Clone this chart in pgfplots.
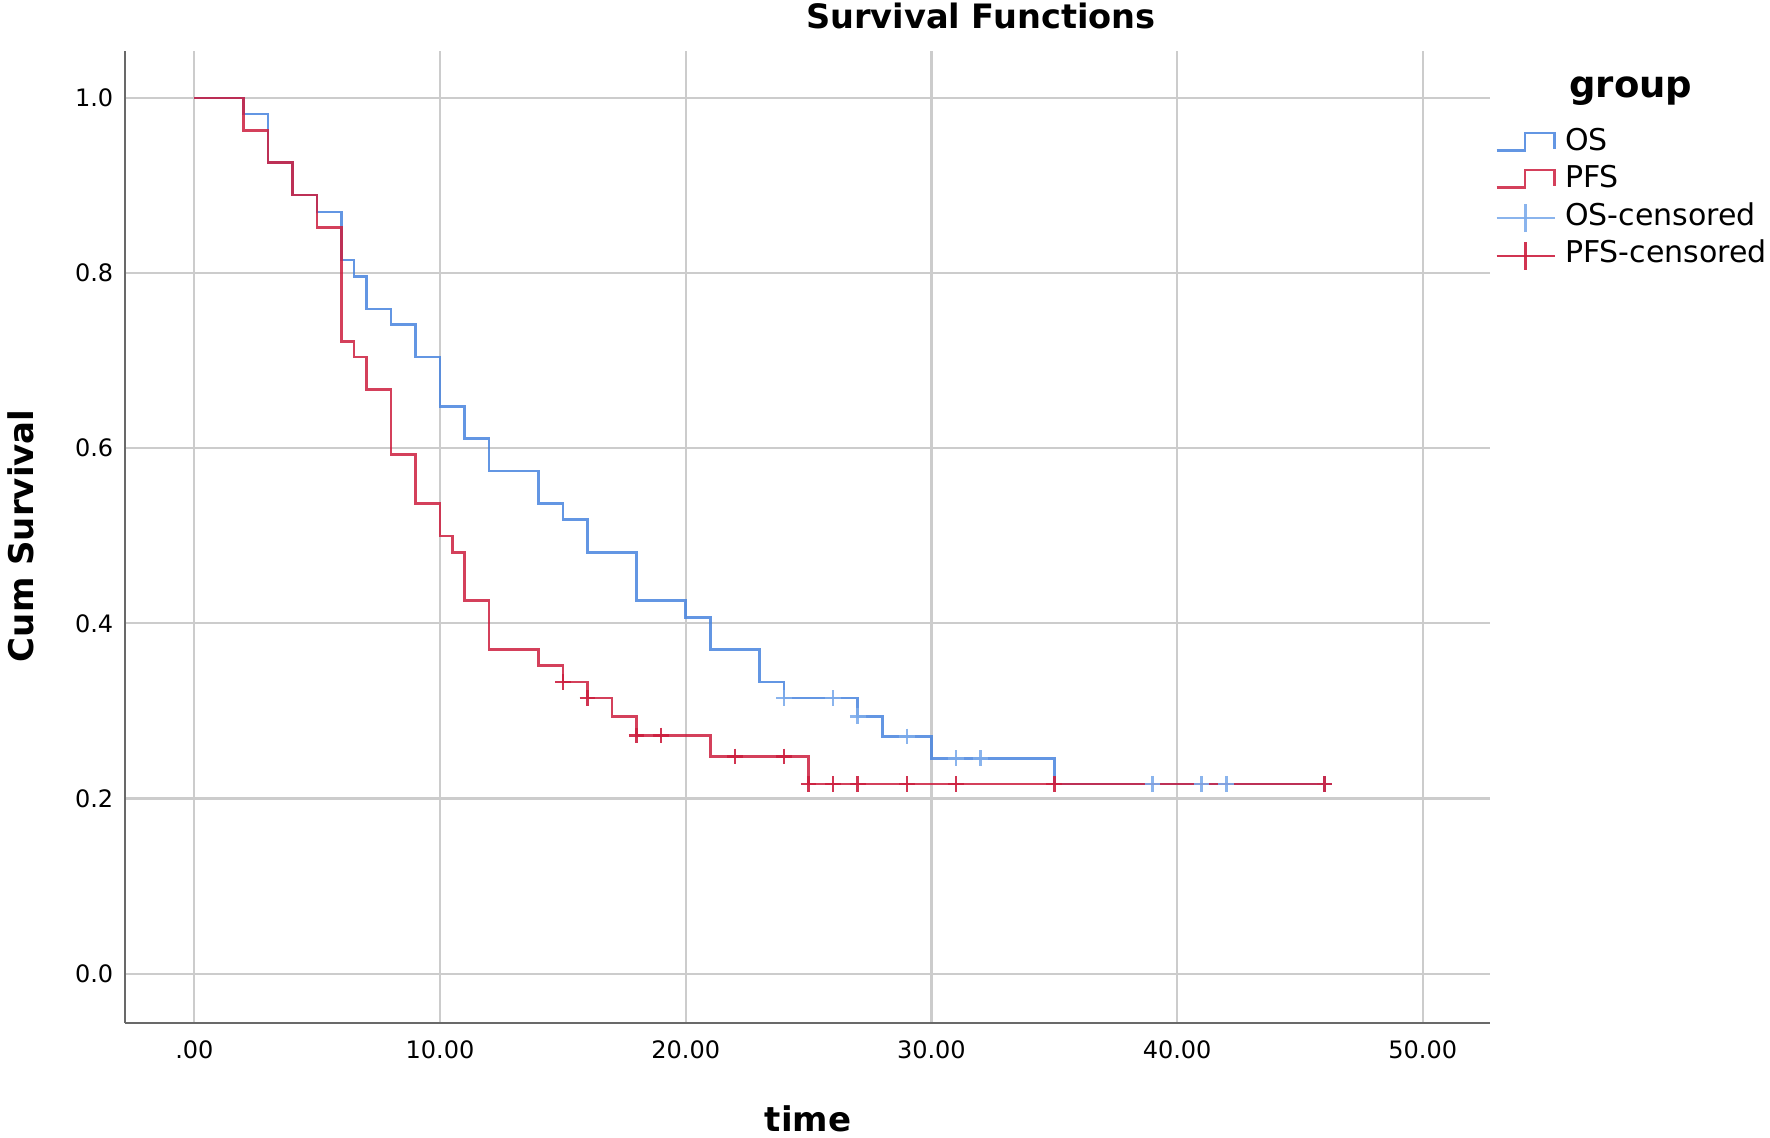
\documentclass[border=0pt]{standalone}
\usepackage{fontspec}
\setmainfont{DejaVu Sans}
\usepackage{pgfplots}
\pgfplotsset{compat=1.18}

\definecolor{osblue}{RGB}{72,132,222}
\definecolor{oscens}{RGB}{125,172,235}
\definecolor{pfsred}{RGB}{204,30,62}
\definecolor{gridgray}{RGB}{204,204,204}
\definecolor{axgray}{RGB}{105,105,105}

\pgfplotsset{
    steplegend/.style={legend image code/.code={\draw[##1] (0pt,-3.5pt) -- (14.2pt,-3.5pt) -- (14.2pt,5.2pt) -- (29pt,5.2pt) -- (29pt,-2.7pt);}},
    censlegend/.style={legend image code/.code={\draw[##1] (0pt,0pt) -- (29pt,0pt); \draw[##1] (14.5pt,-7pt) -- (14.5pt,7pt);}},
}

\begin{document}
\begin{tikzpicture}
\useasboundingbox (-62.65pt,-57.15pt) rectangle (822.35pt,511.35pt);
\begin{axis}[
    scale only axis,
    width=682.4pt, height=486pt,
    xmin=-2.81, xmax=52.74,
    ymin=-0.056, ymax=1.054,
    axis lines*=left,
    axis line style={axgray, line width=1pt},
    xtick={0,10,20,30,40,50},
    xticklabels={.00,10.00,20.00,30.00,40.00,50.00},
    ytick={0,0.2,0.4,0.6,0.8,1},
    yticklabels={0.0,0.2,0.4,0.6,0.8,1.0},
    major tick length=0pt,
    grid=major,
    major grid style={gridgray, line width=1.1pt},
    ticklabel style={font=\fontsize{12}{14}\selectfont},
    xticklabel style={yshift=-5.5pt},
    yticklabel style={xshift=-2.5pt},
    clip=false,
    legend cell align=left,
    legend style={
        at={(1.0036,0.9205)}, anchor=north west,
        draw=none, fill=none, inner sep=0pt,
        font=\fontsize{15}{16}\selectfont,
        row sep=3.6pt, column sep=4.5pt,
        nodes={inner sep=0pt, text height=11pt, text depth=4pt},
    },
]
% Kaplan-Meier steps
\addplot[const plot, osblue, line width=1.3pt, opacity=0.85, steplegend]
coordinates {(0,1) (2,0.9815) (3,0.926) (4,0.889) (5,0.870) (6,0.815) (6.5,0.796)
 (7,0.759) (8,0.741) (9,0.704) (10,0.648) (11,0.611) (12,0.574) (14,0.537)
 (15,0.5185) (16,0.481) (18,0.426) (20,0.407) (21,0.370) (23,0.333) (24,0.315)
 (27,0.294) (28,0.271) (30,0.246) (35,0.2165) (46.3,0.2165)};
\addlegendentry{OS}
\addplot[const plot, pfsred, line width=1.3pt, opacity=0.85, steplegend]
coordinates {(0,1) (2,0.963) (3,0.926) (4,0.889) (5,0.852) (6,0.722) (6.5,0.704)
 (7,0.667) (8,0.593) (9,0.537) (10,0.500) (10.5,0.481) (11,0.426) (12,0.370)
 (14,0.352) (15,0.333) (16,0.315) (17,0.294) (18,0.272) (21,0.248) (25,0.2165)
 (46.3,0.2165)};
\addlegendentry{PFS}
% censored
\addplot[only marks, mark=+, mark size=3.9pt, oscens, line width=1.3pt, opacity=0.9, censlegend]
coordinates {(24,0.315) (26,0.315) (27,0.294) (29,0.271) (31,0.246) (32,0.246)
 (39,0.2165) (41,0.2165) (42,0.2165) (46,0.2165)};
\addlegendentry{OS-censored}
\addplot[only marks, mark=+, mark size=3.9pt, pfsred, line width=1.3pt, opacity=0.9, censlegend]
coordinates {(15,0.333) (16,0.315) (18,0.272) (19,0.272) (22,0.248) (24,0.248)
 (25,0.2165) (26,0.2165) (27,0.2165) (29,0.2165) (31,0.2165) (35,0.2165) (46,0.2165)};
\addlegendentry{PFS-censored}
\end{axis}
\node[anchor=base, font=\bfseries\fontsize{16.8}{18}\selectfont] at (427.75pt,497.2pt) {Survival Functions};
\node[anchor=base, font=\bfseries\fontsize{17}{19}\selectfont] at (341.35pt,-54.15pt) {time};
\node[anchor=base, rotate=90, font=\bfseries\fontsize{17}{19}\selectfont] at (-46pt,243.45pt) {Cum Survival};
\node[anchor=base, font=\bfseries\fontsize{18.5}{20}\selectfont] at (752.75pt,462.7pt) {group};
\end{tikzpicture}
\end{document}
